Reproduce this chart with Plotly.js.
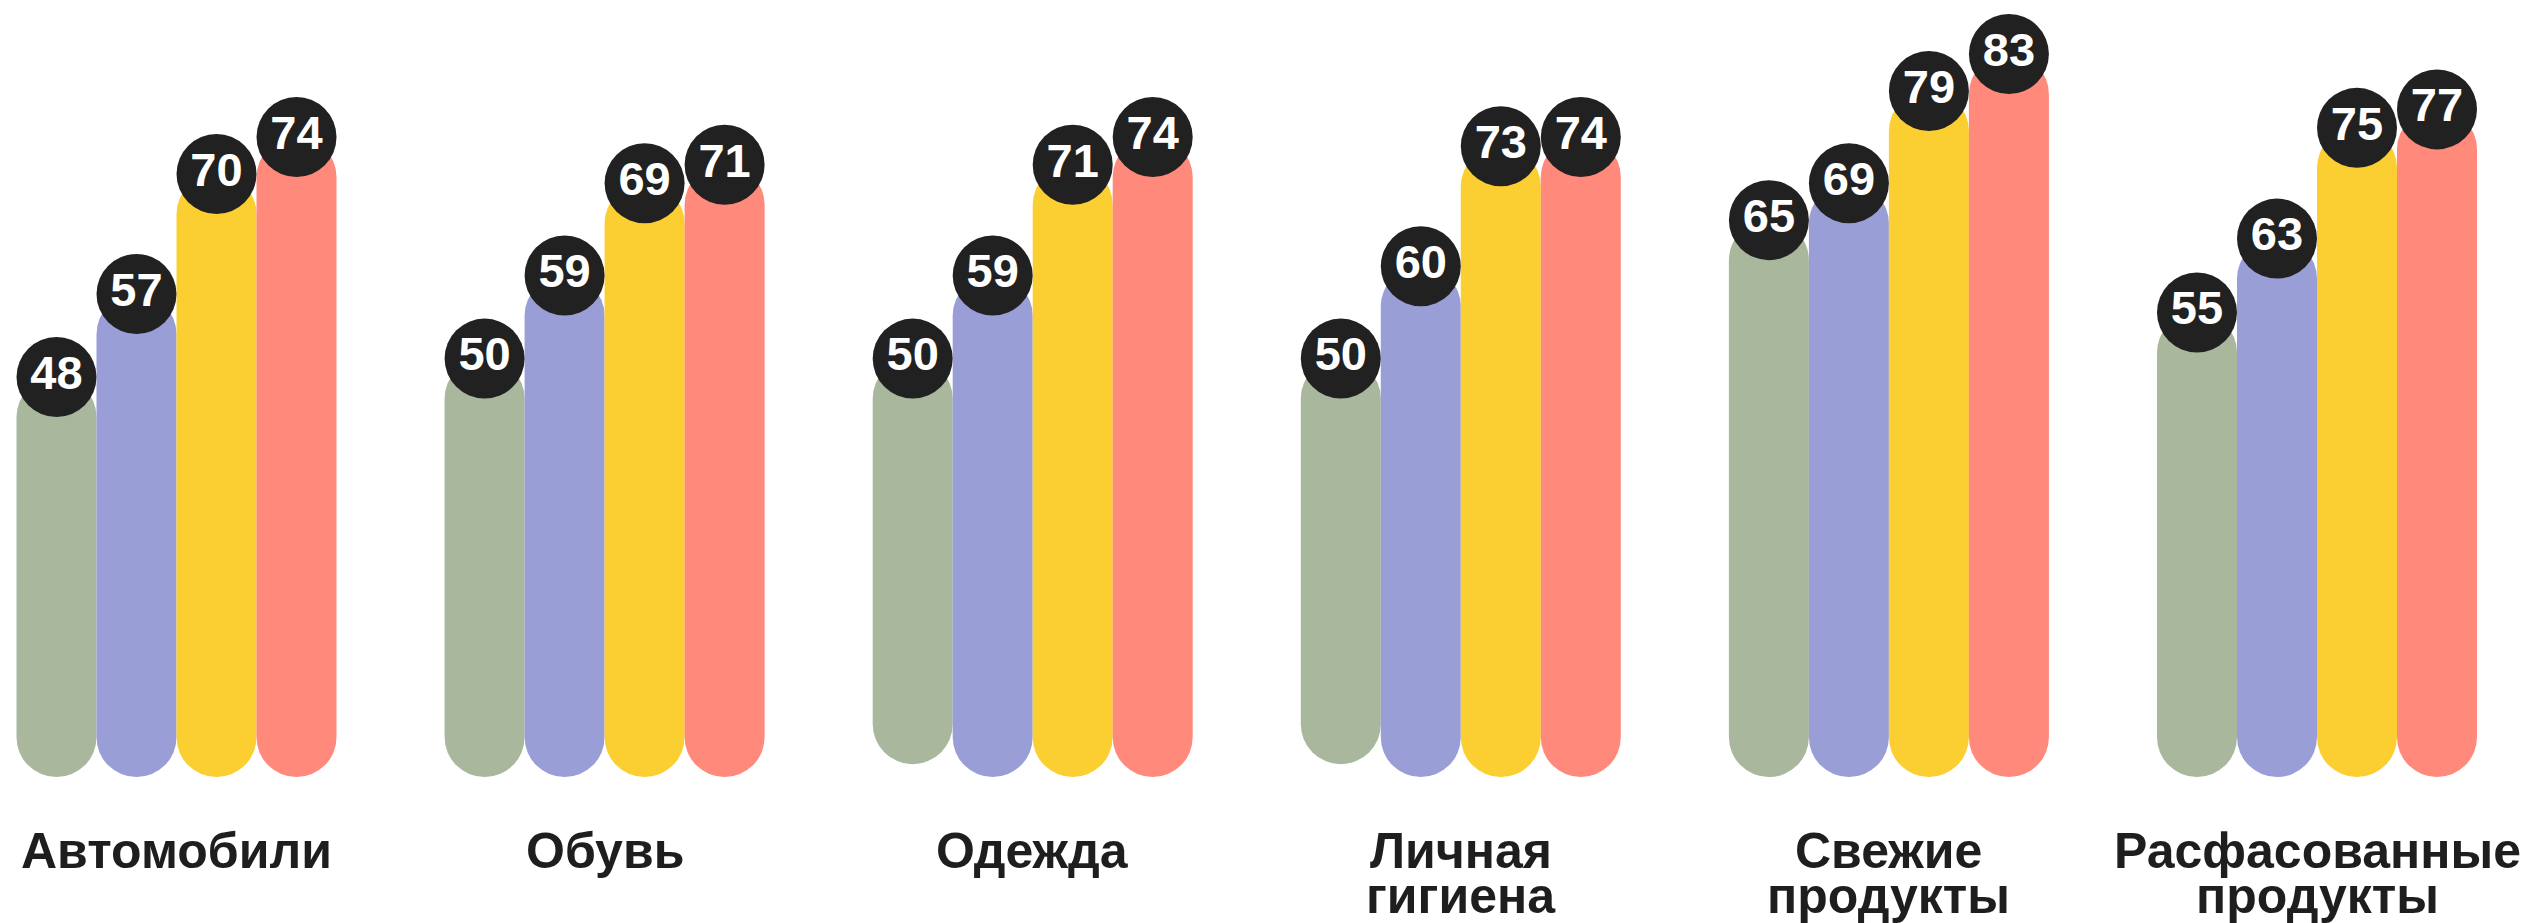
<!DOCTYPE html>
<html>
<head>
<meta charset="utf-8">
<script src="https://cdn.plot.ly/plotly-3.0.1.min.js"></script>
<style>html,body{margin:0;padding:0;background:#fff;}#chart{width:2523px;height:923px;}</style>
</head>
<body>
<div id="chart"></div>
<script>
// ---- data ----
const categories = ['Автомобили', 'Обувь', 'Одежда', 'Личная\nгигиена', 'Свежие\nпродукты', 'Расфасованные\nпродукты'];
const seriesNames = ['Ряд 1', 'Ряд 2', 'Ряд 3', 'Ряд 4'];
const seriesGreen  = [48, 50, 50, 50, 65, 55];
const seriesBlue   = [57, 59, 59, 60, 69, 63];
const seriesYellow = [70, 69, 71, 73, 79, 75];
const seriesRed    = [74, 71, 74, 74, 83, 77];

// ---- styles / layout constants ----
const colors = ['#A9B79D', '#9A9ED6', '#FBCF31', '#FF897A'];
const barBottom = 4.66;           // value where the rounded bar ends sit
const greenBottomShift = [0, 0, 1.4, 1.4, 0, 0]; // green pills end a bit higher in two groups
const BARGAP = 0.2525;
const nSeries = 4;
const barW = (1 - BARGAP) / nSeries;

const allSeries = [seriesGreen, seriesBlue, seriesYellow, seriesRed];
const xIdx = categories.map((_, i) => i);

const traces = [];
allSeries.forEach((vals, k) => {
  traces.push({
    type: 'bar',
    name: seriesNames[k],
    x: xIdx,
    base: vals,
    y: vals.map((v, i) => (barBottom + (k === 0 ? greenBottomShift[i] : 0)) - v),
    marker: { color: colors[k], cornerradius: '50%', line: { width: 0 } },
    hoverinfo: 'skip',
    showlegend: false
  });
});
allSeries.forEach((vals, k) => {
  traces.push({
    type: 'scatter',
    mode: 'markers+text',
    x: xIdx.map(i => i + (k - (nSeries - 1) / 2) * barW),
    y: vals,
    text: vals.map(String),
    textposition: 'middle center',
    textfont: { family: '"Liberation Sans Narrow", "Arial Narrow", "Liberation Sans", Arial, sans-serif', size: 47, color: '#ffffff', weight: 700 },
    marker: { size: 80, color: '#212121', line: { width: 0 } },
    cliponaxis: false,
    hoverinfo: 'skip',
    showlegend: false
  });
});

// category labels as annotations (tight line spacing)
const annotations = [];
const lineY = [0.0775, 0.0290];
categories.forEach((c, i) => {
  c.split('\n').forEach((line, j) => {
    annotations.push({
      x: i, xref: 'x', y: lineY[j], yref: 'paper',
      text: line, showarrow: false, xanchor: 'center', yanchor: 'middle',
      font: { family: '"Liberation Sans", Arial, sans-serif', size: 50, color: '#1e1e1e', weight: 700 }
    });
  });
});

const layout = {
  width: 2523, height: 923,
  margin: { l: 0, r: 0, t: 0, b: 0, pad: 0 },
  paper_bgcolor: '#ffffff', plot_bgcolor: '#ffffff',
  barmode: 'group', bargap: BARGAP, bargroupgap: 0,
  showlegend: false,
  xaxis: { range: [-0.4123, 5.4812], visible: false, fixedrange: true },
  yaxis: { range: [-11.15, 88.85], visible: false, fixedrange: true },
  annotations: annotations
};

Plotly.newPlot('chart', traces, layout, { staticPlot: true, displayModeBar: false });
</script>
</body>
</html>
